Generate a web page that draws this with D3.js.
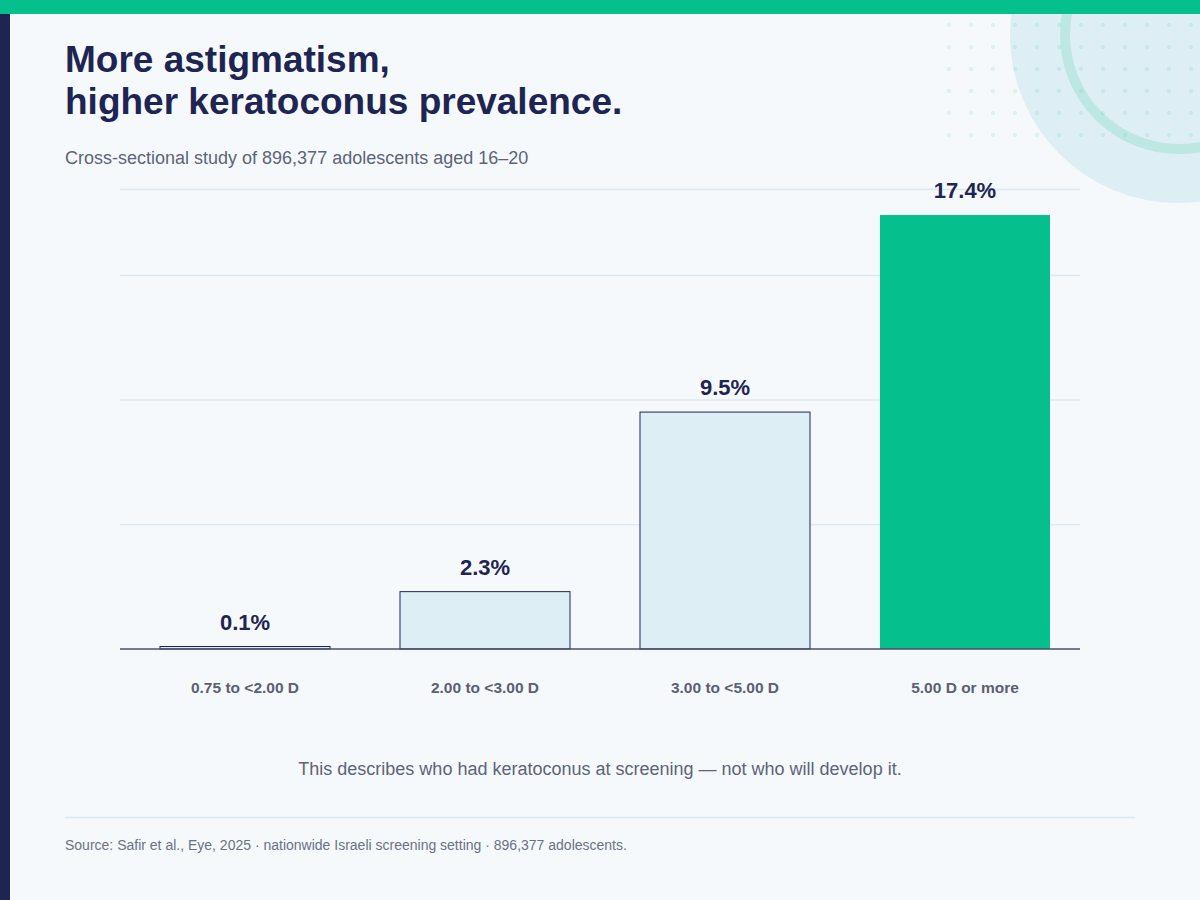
<!DOCTYPE html>
<html>
<head>
<meta charset="utf-8">
<script src="https://cdn.jsdelivr.net/npm/d3@7"></script>
<style>
  body { margin: 0; background: #f5f9fc; }
  svg { display: block; font-family: "Liberation Sans", Arial, sans-serif; }
</style>
</head>
<body>
<div id="chart"></div>
<script>
const categories = ['0.75 to <2.00 D', '2.00 to <3.00 D', '3.00 to <5.00 D', '5.00 D or more'];
const prevalence = [0.1, 2.3, 9.5, 17.4];
const highlight = [false, false, false, true];
const gridTicks = [5, 10, 15];

const width = 1200;
const height = 900;

const svg = d3.select('#chart')
    .append('svg')
    .attr('width', width)
    .attr('height', height);

svg.append('rect').attr('width', width).attr('height', height).attr('fill', '#f5f9fc');

// decoration top right
const deco = svg.append('g');
deco.append('circle').attr('cx', 1178).attr('cy', 35).attr('r', 168).attr('fill', '#deeef5');
deco.append('circle').attr('cx', 1179).attr('cy', 35).attr('r', 114)
    .attr('fill', 'none').attr('stroke', '#bde7e3').attr('stroke-width', 10);
for (let row = 0; row < 6; row++) {
    for (let col = 0; col < 12; col++) {
        deco.append('circle')
            .attr('cx', 949 + col * 22)
            .attr('cy', 25 + row * 22)
            .attr('r', 2.2)
            .attr('fill', '#05c08c')
            .attr('opacity', 0.1);
    }
}

// top band and left stripe
svg.append('rect').attr('x', 0).attr('y', 0).attr('width', width).attr('height', 14).attr('fill', '#05c08c');
svg.append('rect').attr('x', 0).attr('y', 14).attr('width', 10).attr('height', height - 14).attr('fill', '#1e2550');

// titles
const title = svg.append('text')
    .attr('x', 65).attr('y', 72)
    .attr('fill', '#1f2552')
    .style('font-size', '37px')
    .style('font-weight', 'bold');
title.append('tspan').attr('x', 65).text('More astigmatism,');
title.append('tspan').attr('x', 65).attr('dy', 42).text('higher keratoconus prevalence.');

svg.append('text')
    .attr('x', 65).attr('y', 164)
    .attr('fill', '#5d6478')
    .style('font-size', '18px')
    .text('Cross-sectional study of 896,377 adolescents aged 16–20');

// scales
const yMax = d3.max(prevalence) * 1.06;
const y = d3.scaleLinear().domain([0, yMax]).range([649, 189]);
const x = d3.scaleBand()
    .domain(categories)
    .range([130, 1080])
    .paddingInner(7 / 24)
    .paddingOuter(0.125);

// gridlines
const grid = svg.append('g')
    .attr('transform', 'translate(120,0)')
    .call(d3.axisLeft(y).tickValues(gridTicks.concat([yMax])).tickFormat('').tickSize(-960));
grid.select('.domain').remove();
grid.selectAll('line').attr('stroke', '#dce9f1').attr('stroke-width', 1.5);

// bars
svg.append('g')
    .selectAll('rect')
    .data(categories)
    .join('rect')
    .attr('x', d => x(d))
    .attr('y', (d, i) => y(prevalence[i]))
    .attr('width', x.bandwidth())
    .attr('height', (d, i) => y(0) - y(prevalence[i]))
    .attr('fill', (d, i) => highlight[i] ? '#05c08c' : '#deeef5')
    .attr('stroke', (d, i) => highlight[i] ? 'none' : '#1f2552')
    .attr('stroke-width', 1);

// value labels
svg.append('g')
    .selectAll('text')
    .data(categories)
    .join('text')
    .attr('x', d => x(d) + x.bandwidth() / 2)
    .attr('y', (d, i) => y(prevalence[i]) - 17)
    .attr('text-anchor', 'middle')
    .attr('fill', '#1f2552')
    .style('font-size', '22px')
    .style('font-weight', 'bold')
    .text((d, i) => prevalence[i].toFixed(1) + '%');

// baseline + x axis
const xAxis = svg.append('g')
    .attr('transform', `translate(0, ${y(0)})`)
    .call(d3.axisBottom(x).tickSize(0).tickPadding(33));
xAxis.select('.domain').attr('d', 'M120,0H1080').attr('stroke', '#4a5068').attr('stroke-width', 1.5);
xAxis.selectAll('text')
    .attr('fill', '#5b6072')
    .style('font-family', '"Liberation Sans", Arial, sans-serif')
    .style('font-size', '15.5px')
    .style('font-weight', 'bold');

// note
svg.append('text')
    .attr('x', 600).attr('y', 775)
    .attr('text-anchor', 'middle')
    .attr('fill', '#5d6478')
    .style('font-size', '18px')
    .text('This describes who had keratoconus at screening — not who will develop it.');

svg.append('line')
    .attr('x1', 65).attr('x2', 1135)
    .attr('y1', 817.5).attr('y2', 817.5)
    .attr('stroke', '#dce9f1').attr('stroke-width', 1.5);

svg.append('text')
    .attr('x', 65).attr('y', 850)
    .attr('fill', '#6b7285')
    .style('font-size', '14px')
    .text('Source: Safir et al., Eye, 2025 · nationwide Israeli screening setting · 896,377 adolescents.');
</script>
</body>
</html>
